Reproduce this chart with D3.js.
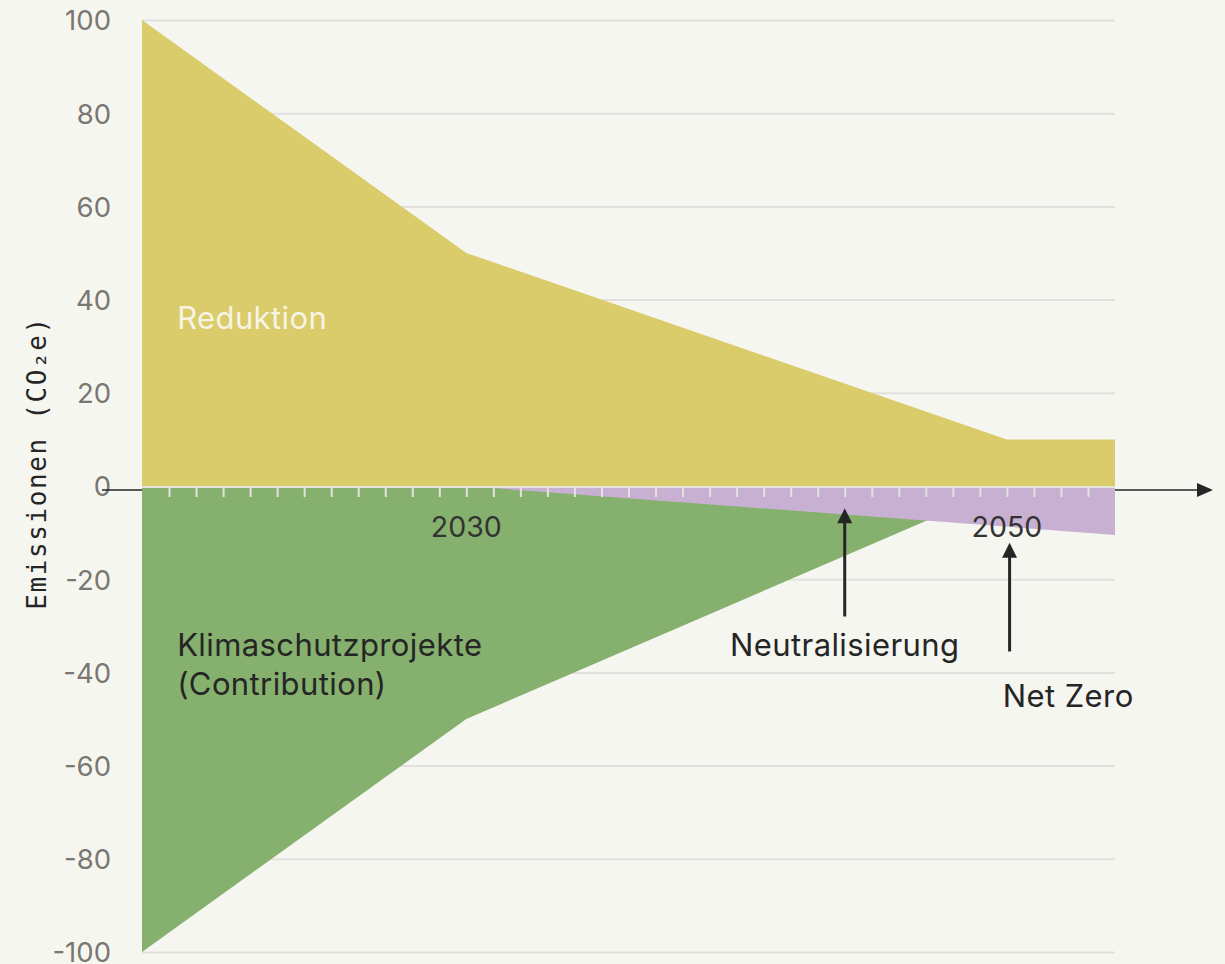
<!DOCTYPE html>
<html>
<head>
<meta charset="utf-8">
<script src="https://cdn.jsdelivr.net/npm/d3@7"></script>
<style>
  html, body { margin: 0; padding: 0; background: #f6f6f1; }
  #chart { width: 1225px; height: 964px; }
  text { font-family: Inter, "Noto Sans", sans-serif; }
</style>
</head>
<body>
<div id="chart"></div>
<script>
//Datos
const years = [2018, 2030, 2050, 2054];
const reduktion = [100, 50, 10, 10];
const contribution = [-100, -50, 0, 0];
const neutralYears = [2030, 2054];
const neutralisierung = [0, -10.5];
const yTicks = [100, 80, 60, 40, 20, 0, -20, -40, -60, -80, -100];
const xLabels = [2030, 2050];

//Colores
const COLOR_RED = '#dacb6b',
COLOR_CONTR = '#86b06e',
COLOR_NEUT = '#c8b0d2',
COLOR_GRID = '#e1e0dc',
COLOR_TEXT = '#252525',
COLOR_TICK = '#7a7670';

let margin = {top: 20, right: 110, bottom: 12, left: 142},
    width = 1225 - margin.left - margin.right,
    height = 964 - margin.top - margin.bottom;

let svg = d3.select('#chart')
    .append('svg')
        .attr('width', 1225)
        .attr('height', 964)
    .append('g')
        .attr('transform', 'translate(' + margin.left + ',' + margin.top + ')');

let x = d3.scaleLinear()
    .domain([2018, 2054])
    .range([0, width]);

let y = d3.scaleLinear()
    .domain([-100, 100])
    .range([height, 0]);

//Rejilla y eje Y
let yAxis = function(g) {
    g.call(d3.axisLeft(y).tickValues(yTicks).tickSize(-width).tickFormat(function(d) { return String(d); }));
    g.call(function(g){ g.select('.domain').remove(); });
    g.selectAll('.tick line').attr('stroke', COLOR_GRID).attr('stroke-width', 2);
    g.selectAll('.tick text')
        .attr('x', -31)
        .attr('dy', '0.36em')
        .attr('fill', COLOR_TICK)
        .style('font-size', '27.5px');
}
svg.append('g').call(yAxis);

//Eje X negro con flecha
svg.append('line')
    .attr('x1', -40).attr('x2', width + 84)
    .attr('y1', y(0) + 4).attr('y2', y(0) + 4)
    .attr('stroke', COLOR_TEXT).attr('stroke-width', 1.5);
svg.append('path')
    .attr('d', d3.line()([[width + 82, y(0) - 3], [width + 98, y(0) + 4], [width + 82, y(0) + 11]]) + 'Z')
    .attr('fill', COLOR_TEXT);

//Áreas
let dataMain = years.map(function(d, i) { return {year: d, red: reduktion[i], con: contribution[i]}; });
let dataNeut = neutralYears.map(function(d, i) { return {year: d, val: neutralisierung[i]}; });

svg.append('path')
    .datum(dataMain)
    .attr('fill', COLOR_RED)
    .attr('d', d3.area().x(function(d) { return x(d.year); }).y0(y(0)).y1(function(d) { return y(d.red); }));

svg.append('path')
    .datum(dataMain)
    .attr('fill', COLOR_CONTR)
    .attr('d', d3.area().x(function(d) { return x(d.year); }).y0(y(0)).y1(function(d) { return y(d.con); }));

svg.append('path')
    .datum(dataNeut)
    .attr('fill', COLOR_NEUT)
    .attr('d', d3.area().x(function(d) { return x(d.year); }).y0(y(0)).y1(function(d) { return y(d.val); }));

//Eje X claro con marcas anuales
let xAxis = function(g) {
    g.call(d3.axisBottom(x).tickValues(d3.range(2019, 2054)).tickSize(10).tickFormat(''));
    g.select('.domain').attr('stroke', '#e4e2de').attr('stroke-width', 2).attr('d', 'M0,0H' + width);
    g.selectAll('.tick line').attr('stroke', '#e4e2de').attr('stroke-width', 2);
}
svg.append('g')
    .attr('transform', 'translate(0,' + (y(0) + 1) + ')')
    .call(xAxis);

svg.selectAll('.xlabel')
    .data(xLabels)
    .enter()
    .append('text')
    .attr('class', 'xlabel')
    .attr('x', function(d) { return x(d); })
    .attr('y', y(0) + 51)
    .attr('text-anchor', 'middle')
    .attr('fill', '#333')
    .style('font-size', '28.5px')
    .text(function(d) { return d; });

//Etiquetas
let labelStyle = function(t) {
    t.attr('fill', COLOR_TEXT)
        .style('font-size', '31px')
        .style('letter-spacing', '0.4px');
}

svg.append('text')
    .attr('x', x(2019.3)).attr('y', y(40) + 29.5)
    .call(labelStyle)
    .attr('fill', '#f7f4e4')
    .text('Reduktion');

svg.append('text')
    .attr('x', x(2019.3)).attr('y', y(-32.5) + 19)
    .call(labelStyle)
    .text('Klimaschutzprojekte');
svg.append('text')
    .attr('x', x(2019.3)).attr('y', y(-40.7) + 19)
    .call(labelStyle)
    .text('(Contribution)');

//Flechas
function arrow(xv, yTop, yBottom) {
    svg.append('line')
        .attr('x1', x(xv)).attr('x2', x(xv))
        .attr('y1', y(yTop) + 10).attr('y2', y(yBottom))
        .attr('stroke', COLOR_TEXT).attr('stroke-width', 3);
    svg.append('path')
        .attr('d', d3.line()([[x(xv), y(yTop)], [x(xv) - 7.5, y(yTop) + 15], [x(xv) + 7.5, y(yTop) + 15]]) + 'Z')
        .attr('fill', COLOR_TEXT);
}
arrow(2044, -4.8, -28);
arrow(2050.1, -12.2, -35.5);

svg.append('text')
    .attr('x', x(2044)).attr('y', y(-33.5) + 14)
    .attr('text-anchor', 'middle')
    .call(labelStyle)
    .text('Neutralisierung');

svg.append('text')
    .attr('x', x(2049.85)).attr('y', y(-44.5) + 14)
    .call(labelStyle)
    .text('Net Zero');

//Título eje Y
d3.select('#chart svg').append('text')
    .attr('transform', 'translate(46,' + 463 + ') rotate(-90)')
    .attr('text-anchor', 'middle')
    .attr('fill', COLOR_TEXT)
    .style('font-family', '"DejaVu Sans Mono", monospace')
    .style('font-size', '26px')
    .style('letter-spacing', '1.6px')
    .text('Emissionen (CO₂e)');
</script>
</body>
</html>
